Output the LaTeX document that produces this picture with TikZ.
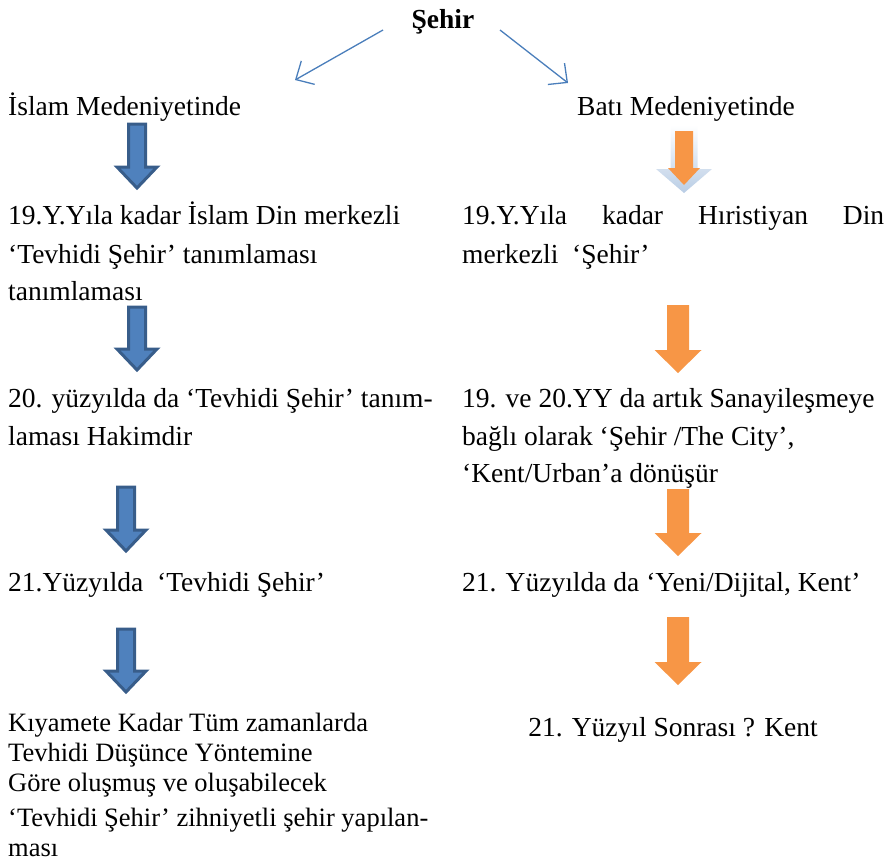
\documentclass[tikz,border=0pt]{standalone}
\usepackage{fontspec}
\setmainfont{Liberation Serif}
\usepackage{tikz}
\usetikzlibrary{arrows.meta}
\definecolor{linkblue}{RGB}{74,126,187}
\definecolor{shaftblue}{RGB}{79,129,189}
\definecolor{edgeblue}{RGB}{56,93,138}
\definecolor{shaftorange}{RGB}{247,150,70}
\definecolor{glowblue}{RGB}{185,205,229}
% block arrow pointing down: style, x, top, tip, half shaft, half head, head length
\newcommand{\downblock}[7]{%
  \path[#1] (#2-#5,#3) -- (#2+#5,#3) -- (#2+#5,#4-#7) -- (#2+#6,#4-#7)
    -- (#2,#4) -- (#2-#6,#4-#7) -- (#2-#5,#4-#7) -- cycle;}

\begin{document}
\begin{tikzpicture}[x=1pt,y=-1pt,
    txt/.style={anchor=base west,inner sep=0pt,font=\fontsize{27.5}{38}\selectfont},
    late/.style={anchor=base west,inner sep=0pt,font=\fontsize{26.5}{30}\selectfont},
    link/.style={draw=linkblue,line width=1.3pt,-{Straight Barb[length=14pt,width=27pt]}},
    bluebox/.style={fill=shaftblue,draw=edgeblue,line width=3pt,line join=miter},
    orangebox/.style={fill=shaftorange},
    glowbox/.style={top color=white,bottom color=glowblue}]
    \useasboundingbox (0,0) rectangle (888,862);
    % Title and the two branches
    \node (title) at (443,28) [anchor=base,inner sep=0pt,font=\fontsize{27.5}{38}\selectfont\bfseries] {Şehir};
    \coordinate (ls) at (383,30);
    \coordinate (le) at (295,80);
    \coordinate (rs) at (500,30);
    \coordinate (re) at (568,83);
    \draw[link] (ls) -- (le);
    \draw[link] (rs) -- (re);
    \node (islam) at (8,115) [txt] {İslam Medeniyetinde};
    \node (bati) at (686,115) [txt,anchor=base] {Batı Medeniyetinde};
    % Left column
    \node (l1a) at (8,224) [txt] {19.Y.Yıla kadar İslam Din merkezli};
    \node (l1b) at (8,263) [txt] {‘Tevhidi Şehir’ tanımlaması};
    \node (l1c) at (8,300) [txt] {tanımlaması};
    \node (l2a) at (8,407) [txt] {20. yüzyılda da ‘Tevhidi Şehir’ tanım-};
    \node (l2b) at (8,445) [txt] {laması Hakimdir};
    \node (l3) at (8,591) [txt] {21.Yüzyılda\ \ ‘Tevhidi Şehir’};
    \node (l4a) at (8,731) [late] {Kıyamete Kadar Tüm zamanlarda};
    \node (l4b) at (8,761) [late] {Tevhidi Düşünce Yöntemine};
    \node (l4c) at (8,791) [late] {Göre oluşmuş ve oluşabilecek};
    \node (l4d) at (8,826) [late] {‘Tevhidi Şehir’ zihniyetli şehir yapılan-};
    \node (l4e) at (8,856) [late] {ması};
    % Right column
    \node (r1a) at (462,224) [txt] {\makebox[422pt][s]{19.Y.Yıla\hfill kadar\hfill Hıristiyan\hfill Din}};
    \node (r1b) at (462,263) [txt] {merkezli\ \ ‘Şehir’};
    \node (r2a) at (462,407) [txt] {19. ve 20.YY da artık Sanayileşmeye};
    \node (r2b) at (462,445) [txt] {bağlı olarak ‘Şehir /The City’,};
    \node (r2c) at (462,482) [txt] {‘Kent/Urban’a dönüşür};
    \node (r3) at (462,591) [txt] {21. Yüzyılda da ‘Yeni/Dijital, Kent’};
    \node (r4) at (673,736) [txt,anchor=base] {21. Yüzyıl Sonrası ? Kent};
    % Block arrows, left
    \downblock{bluebox}{137}{124}{188}{8.5}{20}{21}
    \downblock{bluebox}{137}{307}{370}{8.5}{20}{21}
    \downblock{bluebox}{126}{487}{551}{8.5}{20}{21}
    \downblock{bluebox}{126}{629}{692}{8.5}{20}{21}
    % Block arrows, right
    \downblock{glowbox}{684}{125}{193}{13.5}{28}{24}
    \downblock{orangebox}{684}{131}{185}{9}{16}{17}
    \downblock{orangebox}{678}{305}{373}{11}{23.5}{23}
    \downblock{orangebox}{678}{489}{556}{11}{23.5}{23}
    \downblock{orangebox}{678}{617}{685}{11}{23.5}{23}
\end{tikzpicture}
\end{document}
